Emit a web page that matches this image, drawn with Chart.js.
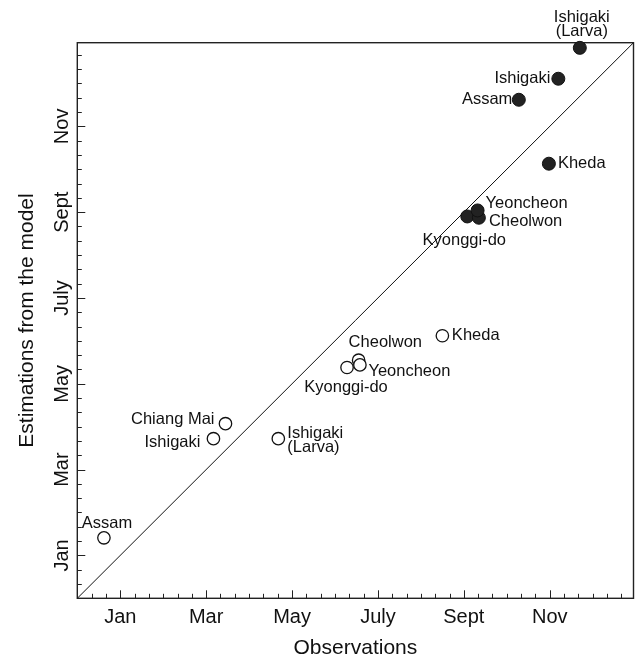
<!DOCTYPE html>
<html>
<head>
<meta charset="utf-8">
<script src="https://cdn.jsdelivr.net/npm/chart.js@4/dist/chart.umd.min.js"></script>
<style>
  html, body { margin: 0; padding: 0; background: #fff; }
  canvas { display: block; }
</style>
</head>
<body>
<canvas id="c" width="641" height="659"></canvas>
<script>
// Month positions shared by both axes (0 = January tick)
const monthTicks = [0, 2, 4, 6, 8, 10];
const monthLabels = ['Jan', 'Mar', 'May', 'July', 'Sept', 'Nov'];
const axisMin = -1;
const axisMax = 11.95;

// Open circles: observed vs. estimated timing
const openSites = ['Assam', 'Ishigaki', 'Chiang Mai', 'Ishigaki\n(Larva)', 'Kyonggi-do', 'Cheolwon', 'Yeoncheon', 'Kheda'];
const openObserved = [-0.38, 2.17, 2.45, 3.68, 5.28, 5.55, 5.58, 7.50];
const openEstimated = [0.41, 2.72, 3.07, 2.72, 4.38, 4.55, 4.44, 5.12];

// Filled circles: observed vs. estimated timing
const filledSites = ['Kyonggi-do', 'Cheolwon', 'Yeoncheon', 'Kheda', 'Assam', 'Ishigaki', 'Ishigaki\n(Larva)'];
const filledObserved = [8.08, 8.35, 8.32, 9.98, 9.28, 10.20, 10.70];
const filledEstimated = [7.90, 7.87, 8.04, 9.13, 10.62, 11.11, 11.83];

// Where each site name sits relative to its marker (pixels)
const openLabelPlacement = [
  { dx: 3, dy: -14, align: 'center' },
  { dx: -13, dy: 4, align: 'right' },
  { dx: -11, dy: -4, align: 'right' },
  { dx: 9, dy: -5, align: 'left' },
  { dx: -1, dy: 19.5, align: 'center' },
  { dx: -10, dy: -18, align: 'left' },
  { dx: 8.5, dy: 7, align: 'left' },
  { dx: 9.5, dy: 0, align: 'left' }
];
const filledLabelPlacement = [
  { dx: -3, dy: 24, align: 'center' },
  { dx: 10, dy: 4, align: 'left' },
  { dx: 8, dy: -7, align: 'left' },
  { dx: 9, dy: 0, align: 'left' },
  { dx: -6.5, dy: 0, align: 'right' },
  { dx: -8, dy: 0, align: 'right' },
  { dx: 2, dy: -30, align: 'center' }
];

const FONT = '"Liberation Sans", Arial, Helvetica, sans-serif';
const INK = '#111';

const toPoints = (xs, ys) => xs.map((x, i) => ({ x: x, y: ys[i] }));

// Frame, inward ticks, rotated y labels and site names
const decorations = {
  id: 'decorations',
  beforeDatasetsDraw(chart) {
    const { ctx, chartArea: a } = chart;
    ctx.save();
    ctx.strokeStyle = '#222';
    ctx.lineWidth = 1.4;
    ctx.strokeRect(a.left, a.top, a.right - a.left, a.bottom - a.top);

    const xs = chart.scales.x, ys = chart.scales.y;
    ctx.lineWidth = 1;
    ctx.beginPath();
    for (let k = Math.ceil(axisMin * 3); k <= Math.floor(axisMax * 3); k++) {
      const v = k / 3;
      const major = k % 6 === 0 && k >= 0;
      const len = major ? 8 : 4.5;
      const px = Math.round(xs.getPixelForValue(v)) + 0.5;
      ctx.moveTo(px, a.bottom);
      ctx.lineTo(px, a.bottom - len);
      const py = Math.round(ys.getPixelForValue(v)) + 0.5;
      ctx.moveTo(a.left, py);
      ctx.lineTo(a.left + len, py);
    }
    ctx.stroke();
    ctx.restore();
  },
  afterDatasetsDraw(chart) {
    const { ctx } = chart;
    const ys = chart.scales.y;
    ctx.save();
    ctx.fillStyle = INK;

    // y tick labels, reading upward
    ctx.font = '20px ' + FONT;
    ctx.textAlign = 'center';
    ctx.textBaseline = 'alphabetic';
    monthTicks.forEach((v, i) => {
      ctx.save();
      ctx.translate(68, ys.getPixelForValue(v));
      ctx.rotate(-Math.PI / 2);
      ctx.fillText(monthLabels[i], 0, 0);
      ctx.restore();
    });

    // site names
    ctx.font = '16.5px ' + FONT;
    ctx.textBaseline = 'middle';
    const drawNames = (dsIndex, names, placement) => {
      const meta = chart.getDatasetMeta(dsIndex);
      meta.data.forEach((pt, i) => {
        const p = placement[i];
        ctx.textAlign = p.align;
        names[i].split('\n').forEach((line, j) => {
          ctx.fillText(line, pt.x + p.dx, pt.y + p.dy + j * 14);
        });
      });
    };
    drawNames(0, filledSites, filledLabelPlacement);
    drawNames(1, openSites, openLabelPlacement);
    ctx.restore();
  }
};

new Chart(document.getElementById('c'), {
  type: 'scatter',
  data: {
    datasets: [
      {
        label: 'Estimated (filled)',
        data: toPoints(filledObserved, filledEstimated),
        pointRadius: 6.5,
        pointHoverRadius: 6.5,
        backgroundColor: '#222',
        borderColor: '#111',
        borderWidth: 1,
        clip: false
      },
      {
        label: 'Estimated (open)',
        data: toPoints(openObserved, openEstimated),
        pointRadius: 6.2,
        pointHoverRadius: 6.2,
        backgroundColor: '#fff',
        borderColor: '#111',
        borderWidth: 1.3,
        clip: false
      },
      {
        type: 'line',
        label: '1:1',
        data: [{ x: axisMin, y: axisMin }, { x: axisMax, y: axisMax }],
        borderColor: '#111',
        borderWidth: 1,
        pointRadius: 0,
        fill: false
      }
    ]
  },
  options: {
    responsive: false,
    animation: false,
    devicePixelRatio: 1,
    layout: { padding: { top: 42.7, right: 7, left: 0, bottom: 0 } },
    plugins: {
      legend: { display: false },
      tooltip: { enabled: false }
    },
    scales: {
      x: {
        type: 'linear',
        position: 'bottom',
        min: axisMin,
        max: axisMax,
        afterBuildTicks: (s) => { s.ticks = monthTicks.map(v => ({ value: v })); },
        afterFit: (s) => { s.height = 60.7; },
        grid: { display: false, drawTicks: false },
        border: { display: false },
        ticks: {
          autoSkip: false,
          maxRotation: 0,
          padding: 7.5,
          color: INK,
          font: { family: FONT, size: 20 },
          callback: (v) => monthLabels[monthTicks.indexOf(v)]
        },
        title: {
          display: true,
          text: 'Observations',
          color: INK,
          font: { family: FONT, size: 21, lineHeight: 1 },
          padding: { top: 0, bottom: 0.5 }
        }
      },
      y: {
        type: 'linear',
        position: 'left',
        min: axisMin,
        max: axisMax,
        afterBuildTicks: (s) => { s.ticks = monthTicks.map(v => ({ value: v })); },
        afterFit: (s) => { s.width = 77.3; },
        grid: { display: false, drawTicks: false },
        border: { display: false },
        ticks: { display: false },
        title: {
          display: true,
          text: 'Estimations from the model',
          color: INK,
          font: { family: FONT, size: 21, lineHeight: 1 },
          padding: { top: 16.5, bottom: 0 }
        }
      }
    }
  },
  plugins: [decorations]
});
</script>
</body>
</html>
